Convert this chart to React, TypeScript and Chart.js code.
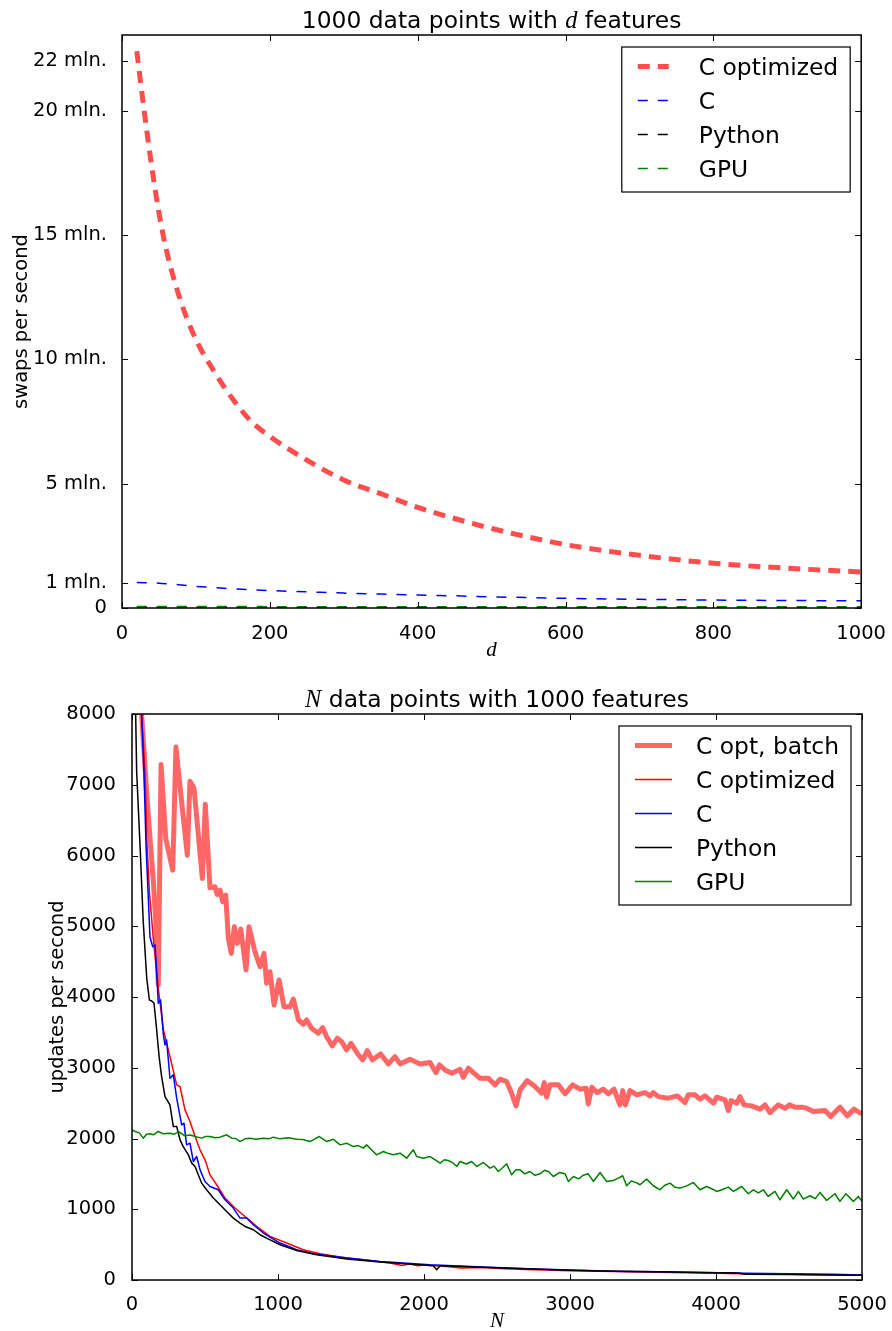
import { useEffect, useRef } from 'react';
import { Chart, registerables } from 'chart.js';

Chart.register(...registerables);

const SANS = '"DejaVu Sans", sans-serif';
const SERIF = '"Liberation Serif", "DejaVu Serif", serif';
Chart.defaults.font.family = SANS;
Chart.defaults.color = '#000';

// ---------- top panel: swaps per second (millions) against d ----------
const featureCounts = [20, 30, 40, 50, 60, 80, 100, 125, 150, 175, 200, 250, 300, 350, 400, 450, 500, 600, 700, 800, 900, 1000];
const swapsCOptimized = [22.4, 20.0, 17.8, 15.9, 14.4, 12.3, 10.8, 9.5, 8.4, 7.5, 6.9, 5.95, 5.15, 4.6, 4.05, 3.6, 3.2, 2.55, 2.12, 1.8, 1.6, 1.45];
const swapsC = [1.03, 1.02, 1.01, 1.0, 0.98, 0.93, 0.87, 0.82, 0.77, 0.73, 0.7, 0.65, 0.6, 0.56, 0.52, 0.49, 0.45, 0.39, 0.35, 0.32, 0.3, 0.29];
const swapsPython = [0.03, 0.03, 0.029, 0.029, 0.028, 0.028, 0.027, 0.026, 0.026, 0.025, 0.025, 0.024, 0.023, 0.023, 0.022, 0.022, 0.021, 0.02, 0.02, 0.019, 0.019, 0.018];
const swapsGpu = [0.06, 0.06, 0.059, 0.059, 0.058, 0.058, 0.057, 0.057, 0.056, 0.056, 0.055, 0.055, 0.054, 0.054, 0.053, 0.053, 0.052, 0.052, 0.051, 0.051, 0.05, 0.05];
const swapTickValues = [0, 1, 5, 10, 15, 20, 22];
const swapTickLabels = ['0', '1 mln.', '5 mln.', '10 mln.', '15 mln.', '20 mln.', '22 mln.'];

// ---------- bottom panel: updates per second against N ----------
const batchN = [25, 50, 66, 100, 125, 146, 165, 180, 199, 231, 279, 301, 340, 379, 397, 425, 482, 502, 534, 568, 584, 603, 621, 642, 660, 680, 701, 721, 745, 781, 801, 842, 877, 904, 922, 945, 973, 1007, 1041, 1082, 1105, 1140, 1174, 1196, 1230, 1276, 1306, 1333, 1372, 1406, 1436, 1470, 1500, 1543, 1580, 1612, 1646, 1703, 1756, 1801, 1836, 1904, 1973, 2041, 2082, 2105, 2144, 2190, 2247, 2269, 2304, 2338, 2384, 2441, 2486, 2521, 2566, 2600, 2630, 2658, 2707, 2760, 2806, 2824, 2840, 2863, 2920, 2966, 3018, 3068, 3110, 3125, 3149, 3187, 3228, 3263, 3301, 3342, 3361, 3379, 3411, 3457, 3514, 3548, 3571, 3605, 3673, 3735, 3788, 3810, 3856, 3890, 3925, 3982, 4005, 4062, 4084, 4103, 4142, 4164, 4192, 4244, 4301, 4336, 4370, 4427, 4473, 4502, 4541, 4587, 4621, 4667, 4747, 4786, 4849, 4899, 4945, 4998];
const batchUpdates = [20000, 10500, 8000, 6900, 6200, 5650, 5000, 4170, 7286, 6241, 5793, 7534, 6758, 6005, 7050, 6947, 5676, 6725, 5544, 5558, 5450, 5511, 5346, 5440, 4829, 4617, 4993, 4758, 4960, 4381, 4993, 4640, 4428, 4617, 4194, 4357, 3887, 4240, 3863, 3863, 3972, 3675, 3615, 3675, 3558, 3488, 3567, 3440, 3308, 3417, 3369, 3252, 3346, 3205, 3111, 3242, 3111, 3195, 3054, 3157, 3054, 3120, 3054, 3073, 2931, 3040, 2969, 2923, 2979, 2866, 2993, 2931, 2852, 2852, 2758, 2838, 2804, 2640, 2461, 2687, 2818, 2734, 2640, 2790, 2584, 2758, 2758, 2631, 2758, 2697, 2711, 2489, 2725, 2649, 2697, 2631, 2697, 2475, 2677, 2475, 2677, 2617, 2649, 2602, 2649, 2592, 2570, 2602, 2508, 2617, 2617, 2556, 2602, 2499, 2584, 2546, 2395, 2536, 2499, 2592, 2475, 2461, 2415, 2475, 2366, 2475, 2429, 2475, 2443, 2443, 2429, 2381, 2395, 2310, 2443, 2320, 2415, 2348];

const cOptN = [25, 50, 66, 89, 101, 119, 146, 180, 215, 249, 306, 329, 363, 397, 432, 466, 500, 534, 580, 637, 705, 774, 854, 945, 1059, 1173, 1288, 1425, 1584, 1767, 1850, 1900, 1960, 2000, 2155, 2250, 2400, 2550, 2700, 3000, 3300, 3600, 3900, 4200, 4500, 4800, 5000];
const cOptUpdates = [20000, 10500, 7982, 7181, 6241, 5487, 4829, 4123, 3534, 3252, 2758, 2734, 2405, 2240, 2028, 1840, 1699, 1487, 1346, 1158, 1017, 898, 757, 616, 522, 428, 371, 325, 287, 240, 205, 225, 200, 212, 192, 170, 175, 160, 150, 130, 120, 110, 100, 90, 80, 72, 68];

const cN = [25, 50, 66, 82, 96, 112, 123, 142, 158, 169, 180, 196, 215, 226, 237, 260, 283, 306, 340, 356, 374, 397, 420, 443, 466, 500, 534, 591, 637, 694, 740, 786, 831, 900, 1014, 1128, 1242, 1471, 1699, 2041, 2400, 2700, 3000, 3300, 3600, 3900, 4200, 4500, 4800, 5000];
const cUpdates = [20000, 10300, 7982, 7181, 6146, 5394, 4852, 4710, 4735, 4357, 3911, 3958, 3464, 3323, 3393, 2852, 2899, 2570, 2193, 2217, 1910, 1934, 1675, 1745, 1557, 1392, 1322, 1275, 1134, 1017, 875, 875, 781, 664, 522, 428, 371, 311, 263, 216, 185, 160, 140, 125, 115, 105, 97, 88, 80, 72];

const pythonN = [10, 25, 32, 55, 77, 101, 119, 135, 151, 169, 186, 203, 226, 260, 283, 306, 329, 351, 386, 409, 432, 454, 477, 511, 557, 603, 648, 694, 740, 774, 831, 877, 922, 1014, 1128, 1265, 1471, 1699, 1900, 2064, 2087, 2110, 2400, 2700, 3000, 3300, 3600, 3900, 4150, 4200, 4500, 4800, 5000];
const pythonUpdates = [14000, 8000, 7181, 6146, 5064, 4264, 3958, 3944, 3911, 3534, 3150, 2875, 2593, 2475, 2169, 2169, 1981, 1886, 1769, 1652, 1604, 1487, 1370, 1275, 1158, 1063, 969, 875, 805, 757, 710, 640, 593, 498, 418, 357, 297, 255, 225, 202, 145, 202, 180, 158, 138, 125, 115, 105, 98, 80, 76, 70, 66];

const gpuN = [0, 21, 50, 77, 100, 125, 146, 180, 215, 260, 290, 317, 363, 400, 432, 477, 505, 534, 570, 603, 648, 683, 710, 740, 775, 808, 850, 900, 935, 968, 1014, 1070, 1128, 1170, 1219, 1250, 1283, 1335, 1380, 1425, 1470, 1516, 1550, 1584, 1607, 1640, 1676, 1721, 1755, 1790, 1836, 1881, 1927, 1950, 1995, 2041, 2075, 2110, 2140, 2166, 2195, 2224, 2247, 2290, 2326, 2361, 2406, 2430, 2452, 2480, 2509, 2540, 2566, 2600, 2630, 2658, 2690, 2726, 2760, 2795, 2825, 2852, 2886, 2930, 2966, 2989, 3023, 3060, 3090, 3125, 3160, 3206, 3251, 3297, 3330, 3361, 3388, 3420, 3450, 3479, 3525, 3571, 3616, 3650, 3685, 3720, 3753, 3800, 3845, 3890, 3936, 3970, 4005, 4045, 4084, 4119, 4150, 4176, 4221, 4256, 4290, 4324, 4358, 4404, 4438, 4484, 4530, 4564, 4598, 4644, 4680, 4713, 4758, 4815, 4849, 4890, 4941, 4975, 5000];
const gpuUpdates = [2122, 2099, 2080, 2005, 2060, 2066, 2052, 2099, 2066, 2075, 2060, 2099, 2038, 2050, 2028, 2005, 2030, 2028, 2010, 2019, 2052, 2005, 2000, 1957, 1995, 2005, 1990, 2005, 1995, 2019, 1995, 2010, 1991, 1985, 1957, 1990, 2028, 1957, 1990, 1910, 1934, 1886, 1900, 1864, 1910, 1840, 1769, 1816, 1790, 1769, 1792, 1722, 1840, 1745, 1722, 1745, 1700, 1652, 1700, 1689, 1660, 1604, 1675, 1640, 1675, 1604, 1661, 1620, 1581, 1610, 1534, 1590, 1642, 1487, 1560, 1557, 1500, 1534, 1480, 1501, 1550, 1534, 1463, 1520, 1501, 1393, 1463, 1430, 1480, 1501, 1393, 1520, 1393, 1407, 1440, 1473, 1332, 1400, 1380, 1346, 1426, 1332, 1275, 1340, 1370, 1310, 1299, 1330, 1379, 1275, 1322, 1290, 1252, 1280, 1313, 1252, 1290, 1322, 1219, 1275, 1230, 1275, 1181, 1252, 1134, 1275, 1144, 1252, 1144, 1191, 1150, 1238, 1125, 1219, 1111, 1219, 1111, 1181, 1111];

const pts = (xs: number[], ys: number[]) => xs.map((x, i) => ({ x, y: ys[i] }));
const plainNumber = (v: number | string) => String(v);

type Run = { text: string; italic?: boolean };

const runFont = (r: Run, size: number) =>
  r.italic ? `italic ${size + 1}px ${SERIF}` : `${size}px ${SANS}`;

// frame, inward ticks on all sides, title, axis labels and legend
const decorPlugin = {
  id: 'decor',
  afterDraw(chart: any, _args: any, opts: any) {
    const { ctx, chartArea } = chart;
    const { left, right, top, bottom } = chartArea;
    const xs = chart.scales.x;
    const ys = chart.scales.y;
    ctx.save();

    ctx.strokeStyle = '#000';
    ctx.lineWidth = 1;
    const tl = 6;
    ctx.beginPath();
    for (const t of xs.ticks) {
      const px = Math.round(xs.getPixelForValue(t.value)) + 0.5;
      ctx.moveTo(px, bottom);
      ctx.lineTo(px, bottom - tl);
      ctx.moveTo(px, top);
      ctx.lineTo(px, top + tl);
    }
    for (const t of ys.ticks) {
      const py = Math.round(ys.getPixelForValue(t.value)) + 0.5;
      ctx.moveTo(left, py);
      ctx.lineTo(left + tl, py);
      ctx.moveTo(right, py);
      ctx.lineTo(right - tl, py);
    }
    ctx.stroke();

    ctx.lineWidth = 1.5;
    ctx.strokeRect(left, top, right - left, bottom - top);

    // title made of plain and italic runs
    const titleSize = 23.4;
    const runs: Run[] = opts.title;
    let total = 0;
    for (const r of runs) {
      ctx.font = runFont(r, titleSize);
      total += ctx.measureText(r.text).width;
    }
    let tx = (left + right) / 2 - total / 2;
    ctx.fillStyle = '#000';
    ctx.textBaseline = 'alphabetic';
    ctx.textAlign = 'left';
    for (const r of runs) {
      ctx.font = runFont(r, titleSize);
      ctx.fillText(r.text, tx, top - 7.5);
      tx += ctx.measureText(r.text).width;
    }

    // axis labels
    ctx.font = `19.5px ${SANS}`;
    ctx.textAlign = 'center';
    ctx.textBaseline = 'middle';
    ctx.save();
    ctx.translate(opts.yLabelX, (top + bottom) / 2);
    ctx.rotate(-Math.PI / 2);
    ctx.fillText(opts.yLabel, 0, 0);
    ctx.restore();
    ctx.font = `italic 21px ${SERIF}`;
    ctx.fillText(opts.xLabel, (left + right) / 2, opts.xLabelY);

    // legend
    const ds = chart.data.datasets;
    const legendSize = 23.4;
    ctx.font = `${legendSize}px ${SANS}`;
    let maxW = 0;
    for (const d of ds) maxW = Math.max(maxW, ctx.measureText(d.label).width);
    const boxW = maxW + 77 + 12;
    const rowH = 34;
    const boxH = 19 + (ds.length - 1) * rowH + 24;
    const bx = right - 11 - boxW;
    const by = top + 12;
    ctx.fillStyle = '#fff';
    ctx.fillRect(bx, by, boxW, boxH);
    ctx.lineWidth = 1.2;
    ctx.strokeStyle = '#000';
    ctx.strokeRect(bx, by, boxW, boxH);
    ds.forEach((d: any, i: number) => {
      const cy = by + 19.5 + i * rowH;
      ctx.save();
      ctx.strokeStyle = d.borderColor;
      ctx.lineWidth = d.borderWidth;
      ctx.lineCap = 'butt';
      ctx.setLineDash(d.borderDash || []);
      ctx.beginPath();
      ctx.moveTo(bx + 16, cy);
      ctx.lineTo(bx + opts.sampleEnd, cy);
      ctx.stroke();
      ctx.restore();
      ctx.fillStyle = '#000';
      ctx.textAlign = 'left';
      ctx.textBaseline = 'alphabetic';
      ctx.fillText(d.label, bx + 77, cy + 8.6);
    });

    ctx.restore();
  },
};

const tickFont = { size: 19.5, family: SANS };

function swapsConfig(): any {
  return {
    type: 'line',
    data: {
      datasets: [
        { label: 'C optimized', data: pts(featureCounts, swapsCOptimized), borderColor: 'rgba(255,0,0,0.7)', borderWidth: 5, borderDash: [12, 8], order: 4 },
        { label: 'C', data: pts(featureCounts, swapsC), borderColor: '#0000ff', borderWidth: 1.5, borderDash: [10, 10], order: 3 },
        { label: 'Python', data: pts(featureCounts, swapsPython), borderColor: '#000000', borderWidth: 1.5, borderDash: [10, 10], order: 2 },
        { label: 'GPU', data: pts(featureCounts, swapsGpu), borderColor: '#008000', borderWidth: 1.5, borderDash: [10, 10], order: 1 },
      ],
    },
    options: {
      animation: false,
      responsive: false,
      devicePixelRatio: 1,
      layout: { padding: { top: 35, right: 30, left: 0, bottom: 0 } },
      elements: {
        point: { radius: 0 },
        line: { cubicInterpolationMode: 'monotone', borderCapStyle: 'butt', fill: false },
      },
      datasets: { line: { clip: 0 } },
      plugins: {
        legend: { display: false },
        tooltip: { enabled: false },
        decor: {
          title: [{ text: '1000 data points with ' }, { text: 'd', italic: true }, { text: ' features' }],
          yLabel: 'swaps per second',
          yLabelX: 22,
          xLabel: 'd',
          xLabelY: 650,
          sampleEnd: 47,
        },
      },
      scales: {
        x: {
          type: 'linear', min: 0, max: 1000,
          grid: { display: false }, border: { display: false },
          ticks: { stepSize: 200, font: tickFont, color: '#000', padding: 6, maxRotation: 0, autoSkip: false, callback: plainNumber },
          afterFit: (s: any) => { s.height = 57; },
        },
        y: {
          type: 'linear', min: 0, max: 23.05,
          grid: { display: false }, border: { display: false },
          afterBuildTicks: (s: any) => { s.ticks = swapTickValues.map((v) => ({ value: v })); },
          ticks: {
            font: tickFont, color: '#000', padding: 7, autoSkip: false,
            callback: (v: number) => swapTickLabels[swapTickValues.indexOf(v)] ?? '',
          },
          afterFit: (s: any) => { s.width = 122; },
        },
      },
    },
    plugins: [decorPlugin],
  };
}

function updatesConfig(): any {
  return {
    type: 'line',
    data: {
      datasets: [
        { label: 'C opt, batch', data: pts(batchN, batchUpdates), borderColor: 'rgba(255,0,0,0.6)', borderWidth: 5, order: 5 },
        { label: 'C optimized', data: pts(cOptN, cOptUpdates), borderColor: '#ff0000', borderWidth: 1.5, order: 4 },
        { label: 'C', data: pts(cN, cUpdates), borderColor: '#0000ff', borderWidth: 1.5, order: 3 },
        { label: 'Python', data: pts(pythonN, pythonUpdates), borderColor: '#000000', borderWidth: 1.5, order: 2 },
        { label: 'GPU', data: pts(gpuN, gpuUpdates), borderColor: '#008000', borderWidth: 1.5, order: 1 },
      ],
    },
    options: {
      animation: false,
      responsive: false,
      devicePixelRatio: 1,
      layout: { padding: { top: 49, right: 30, left: 0, bottom: 0 } },
      elements: {
        point: { radius: 0 },
        line: { tension: 0, borderJoinStyle: 'round', fill: false },
      },
      datasets: { line: { clip: 0 } },
      plugins: {
        legend: { display: false },
        tooltip: { enabled: false },
        decor: {
          title: [{ text: 'N', italic: true }, { text: ' data points with 1000 features' }],
          yLabel: 'updates per second',
          yLabelX: 58,
          xLabel: 'N',
          xLabelY: 656.5,
          sampleEnd: 53,
        },
      },
      scales: {
        x: {
          type: 'linear', min: 0, max: 5000,
          grid: { display: false }, border: { display: false },
          ticks: { stepSize: 1000, font: tickFont, color: '#000', padding: 5, maxRotation: 0, autoSkip: false, callback: plainNumber },
          afterFit: (s: any) => { s.height = 51; },
        },
        y: {
          type: 'linear', min: 0, max: 8000,
          grid: { display: false }, border: { display: false },
          ticks: { stepSize: 1000, font: tickFont, color: '#000', padding: 8, autoSkip: false, callback: plainNumber },
          afterFit: (s: any) => { s.width = 132; },
        },
      },
    },
    plugins: [decorPlugin],
  };
}

function Panel({ top, height, makeConfig }: { top: number; height: number; makeConfig: () => any }) {
  const ref = useRef<HTMLCanvasElement>(null);
  useEffect(() => {
    const chart = new Chart(ref.current as HTMLCanvasElement, makeConfig());
    return () => chart.destroy();
  }, [makeConfig]);
  return (
    <div style={{ position: 'absolute', left: 0, top, width: 892, height }}>
      <canvas ref={ref} width={892} height={height} style={{ display: 'block', width: 892, height }} />
    </div>
  );
}

export default function App() {
  return (
    <div style={{ position: 'fixed', left: 0, top: 0, width: 892, height: 1331, background: '#fff', overflow: 'hidden' }}>
      <Panel top={0} height={665} makeConfig={swapsConfig} />
      <Panel top={665} height={666} makeConfig={updatesConfig} />
    </div>
  );
}
